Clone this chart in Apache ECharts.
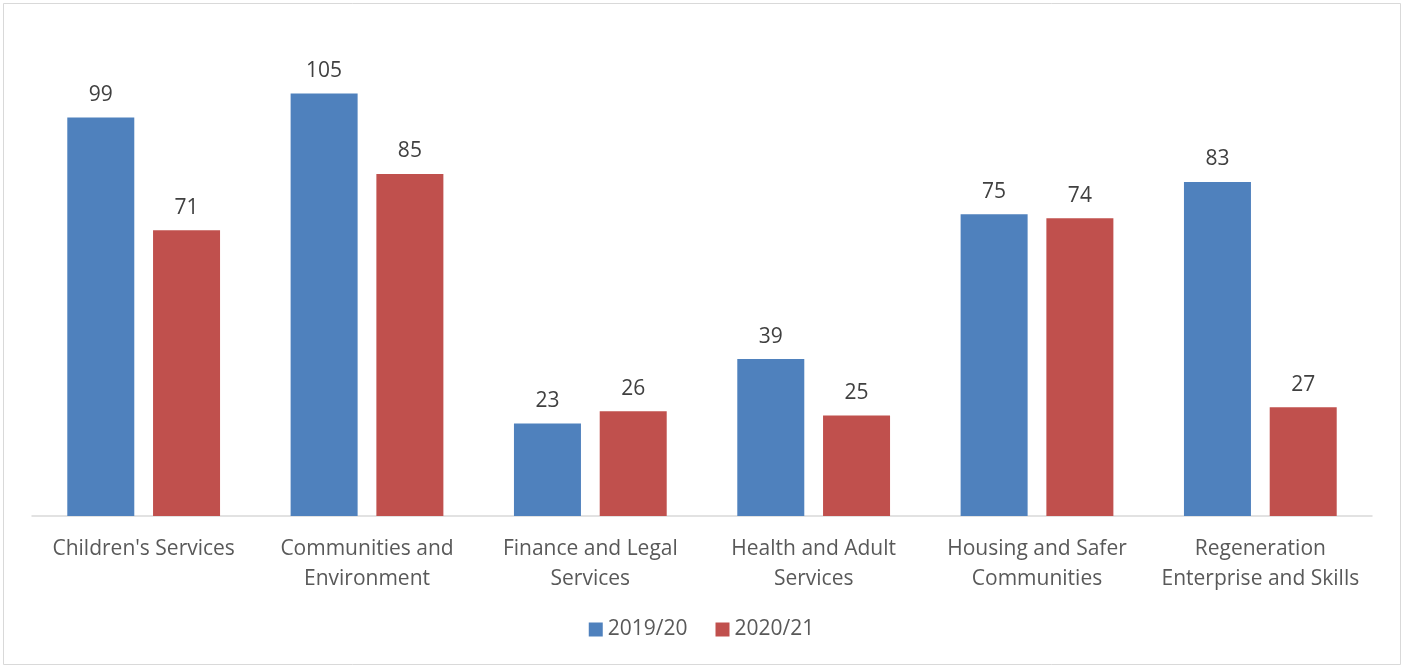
<!DOCTYPE html>
<html>
<head>
<meta charset="utf-8">
<script src="https://cdn.jsdelivr.net/npm/echarts@6/dist/echarts.min.js"></script>
<style>
  html, body { margin: 0; padding: 0; background: #fff; }
  #chart { width: 1403px; height: 668px; }
</style>
</head>
<body>
<div id="chart"></div>
<script>
// Directorates shown along the x axis
const categories = [
  "Children's Services",
  "Communities and\nEnvironment",
  "Finance and Legal\nServices",
  "Health and Adult\nServices",
  "Housing and Safer\nCommunities",
  "Regeneration\nEnterprise and Skills"
];
const seriesNames = ["2019/20", "2020/21"];
const values2019 = [99, 105, 23, 39, 75, 83];
const values2020 = [71, 85, 26, 25, 74, 27];

const fontFamily = "'Open Sans', 'Noto Sans', sans-serif";
const chart = echarts.init(document.getElementById('chart'), null, { renderer: 'canvas' });

const labelStyle = {
  show: true,
  position: 'top',
  distance: 12,
  color: '#404040',
  fontSize: 21,
  fontFamily: fontFamily
};

chart.setOption({
  animation: false,
  backgroundColor: '#ffffff',
  graphic: [{
    type: 'rect',
    shape: { x: 3.5, y: 3.5, width: 1397, height: 661 },
    style: { fill: 'none', stroke: '#d9d9d9', lineWidth: 1 },
    silent: true
  }],
  legend: {
    data: seriesNames,
    bottom: 23,
    left: 'center',
    itemWidth: 14,
    itemHeight: 14,
    itemGap: 28,
    icon: 'rect',
    textStyle: { color: '#595959', fontSize: 21, fontFamily: fontFamily }
  },
  grid: { left: 32, right: 31, top: 33, bottom: 152, containLabel: false },
  xAxis: {
    type: 'category',
    data: categories,
    axisLine: { show: true, lineStyle: { color: '#d9d9d9', width: 1.5 } },
    axisTick: { show: false },
    axisLabel: {
      color: '#595959',
      fontSize: 21,
      fontFamily: fontFamily,
      lineHeight: 30,
      margin: 18,
      interval: 0
    }
  },
  yAxis: {
    type: 'value',
    min: 0,
    max: 120,
    interval: 20,
    show: false,
    splitLine: { show: false }
  },
  series: [
    {
      name: seriesNames[0],
      type: 'bar',
      data: values2019,
      barWidth: '30%',
      barGap: '28%',
      itemStyle: { color: '#4f81bd' },
      label: labelStyle
    },
    {
      name: seriesNames[1],
      type: 'bar',
      data: values2020,
      barWidth: '30%',
      itemStyle: { color: '#c0504d' },
      label: labelStyle
    }
  ]
});
</script>
</body>
</html>
